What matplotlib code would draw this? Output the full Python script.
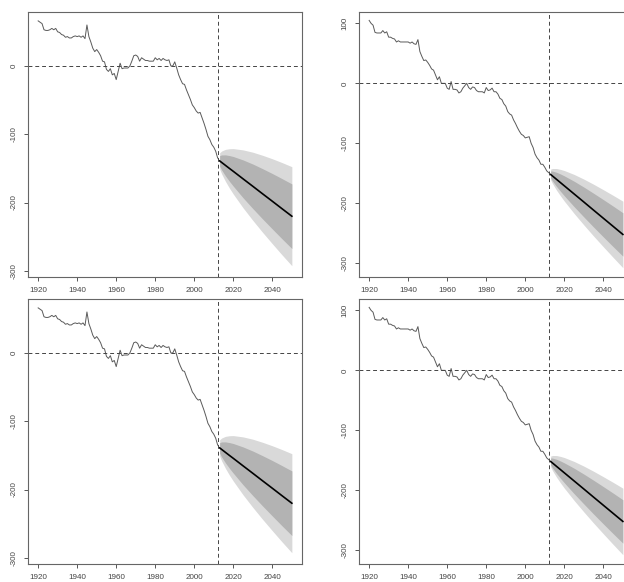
import matplotlib
matplotlib.use("Agg")
import matplotlib.pyplot as plt
import numpy as np

plt.rcParams['font.family'] = ['Liberation Sans', 'DejaVu Sans']

# observed series, one value per year 1920..2012
years = np.arange(1920, 2013)

left_obs = [66, 64, 62, 53, 52, 52, 53, 55, 53, 55,
            50, 49, 46, 45, 42, 43, 41, 41, 43, 44,
            43, 44, 42, 44, 40, 60, 43, 35, 26, 21,
            24, 20, 15, 7, 6, -5, -8, -4, -13, -11,
            -20, -8, 4, -4, -3, -3, -3, 0, 7, 15,
            16, 14, 7, 12, 10, 8, 8, 7, 7, 7,
            12, 9, 11, 8, 11, 9, 8, 9, 0, 0,
            6, -3, -13, -20, -26, -27, -35, -42, -49, -57,
            -61, -66, -69, -68, -76, -84, -93, -103, -108, -115,
            -119, -125, -135]

right_obs = [105, 100, 97, 85, 84, 84, 84, 88, 84, 86,
             77, 77, 75, 74, 69, 71, 69, 69, 69, 69,
             69, 67, 69, 66, 65, 73, 53, 45, 38, 39,
             35, 30, 24, 22, 14, 6, 11, 0, 0, 0,
             -8, -10, 3, -10, -10, -11, -16, -14, -8, -4,
             0, -7, -10, -6, -7, -12, -14, -14, -14, -16,
             -7, -12, -11, -8, -14, -14, -18, -25, -27, -34,
             -38, -47, -51, -53, -61, -67, -74, -80, -85, -87,
             -91, -90, -89, -100, -107, -118, -124, -128, -135, -135,
             -140, -146, -149]

# forecast fan, read at these years
fc_years = [2013, 2014, 2016, 2018, 2020, 2025, 2030, 2035, 2040, 2045, 2050]

left_mean = [-139, -141.2, -145.6, -150.0, -154.3, -165.3, -176.2, -187.2, -198.1, -209.1, -220]
left_hi95 = [-127.2, -124.6, -122.1, -121.2, -121.0, -122.9, -126.3, -130.8, -135.9, -141.5, -147.5]
left_lo95 = [-150.8, -157.8, -169.1, -178.8, -187.6, -207.7, -226.1, -243.6, -260.3, -276.7, -292.5]
left_hi80 = [-131.3, -130.3, -130.2, -131.2, -132.6, -137.6, -143.6, -150.4, -157.5, -165.0, -172.7]
left_lo80 = [-146.7, -152.1, -161.0, -168.8, -176.0, -193.0, -208.8, -224.0, -238.7, -253.2, -267.3]

right_mean = [-152, -154.7, -160.1, -165.5, -170.9, -184.4, -197.9, -211.5, -225.0, -238.5, -252]
right_hi95 = [-143.0, -142.0, -142.1, -143.5, -145.4, -151.9, -159.7, -168.3, -177.4, -186.8, -196.5]
right_lo95 = [-161.0, -167.4, -178.1, -187.5, -196.4, -216.9, -236.1, -254.7, -272.6, -290.2, -307.5]
right_hi80 = [-146.1, -146.4, -148.3, -151.1, -154.3, -163.2, -173.0, -183.3, -193.9, -204.7, -215.8]
right_lo80 = [-157.9, -163.0, -171.9, -179.9, -187.5, -205.6, -222.8, -239.7, -256.1, -272.3, -288.2]

x_ticks = [1920, 1940, 1960, 1980, 2000, 2020, 2040]
left_yticks = [-300, -200, -100, 0]
right_yticks = [-300, -200, -100, 0, 100]
cut_year = 2012

fig = plt.figure(figsize=(6.24, 5.82), dpi=100)
W, H = 624.0, 582.0


def panel(px_left, px_top, obs, mean, hi95, lo95, hi80, lo80, ylim, yticks):
    ax = fig.add_axes([px_left / W, (H - px_top - 265) / H, 274 / W, 265 / H])
    ax.fill_between(fc_years, lo95, hi95, color='#d9d9d9', lw=0)
    ax.fill_between(fc_years, lo80, hi80, color='#b3b3b3', lw=0)
    ax.plot(fc_years, mean, color='black', lw=1.2)
    ax.plot(years, obs, color='#5a5a5a', lw=0.7)
    ax.axhline(0, color='#444444', lw=0.7, ls=(0, (4, 3)))
    ax.axvline(cut_year, color='#444444', lw=0.7, ls=(0, (4, 3)))
    ax.set_xlim(1914.8, 2055.2)
    ax.set_ylim(*ylim)
    ax.set_xticks(x_ticks)
    ax.set_yticks(yticks)
    ax.set_yticklabels([str(t) for t in yticks], rotation=90, va='center')
    ax.tick_params(length=3, width=0.7, color='#555555', labelsize=5.8,
                   labelcolor='#444444', pad=4.5)
    ax.tick_params(axis='x', pad=4)
    for s in ax.spines.values():
        s.set_color('#666666')
        s.set_linewidth(0.8)
    return ax


panel(28, 12, left_obs, left_mean, left_hi95, left_lo95, left_hi80, left_lo80,
      (-309, 79), left_yticks)
panel(359, 12, right_obs, right_mean, right_hi95, right_lo95, right_hi80, right_lo80,
      (-323, 119), right_yticks)
panel(28, 299, left_obs, left_mean, left_hi95, left_lo95, left_hi80, left_lo80,
      (-309, 79), left_yticks)
panel(359, 299, right_obs, right_mean, right_hi95, right_lo95, right_hi80, right_lo80,
      (-323, 119), right_yticks)

fig.savefig('out.png', dpi=100)
